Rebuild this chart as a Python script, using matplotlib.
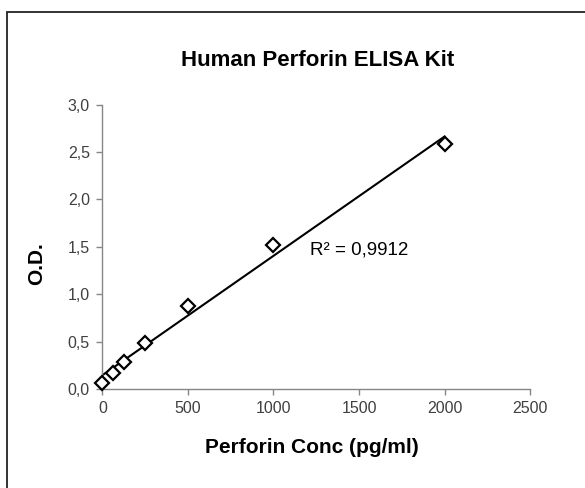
import numpy as np
import matplotlib
matplotlib.use('Agg')
import matplotlib.pyplot as plt
from matplotlib.ticker import FuncFormatter
from matplotlib.patches import Rectangle

plt.rcParams['font.family'] = ['Liberation Sans', 'DejaVu Sans']

conc = [0, 62.5, 125, 250, 500, 1000, 2000]
od = [0.06, 0.17, 0.28, 0.49, 0.88, 1.52, 2.58]
r2_label = 'R² = 0,9912'
x_ticks = [0, 500, 1000, 1500, 2000, 2500]
y_ticks = [0.0, 0.5, 1.0, 1.5, 2.0, 2.5, 3.0]

fig = plt.figure(figsize=(5.85, 4.88), dpi=100)
ax = fig.add_axes([0.1752, 0.2029, 0.7308, 0.5826])

# outer chart border (only left/top visible in the original)
fig.patches.append(Rectangle((7 / 585, -0.1), 1.2, 1 - 12 / 488 + 0.1,
                             transform=fig.transFigure, fill=False,
                             edgecolor='#222222', lw=1.3))

slope, intercept = np.polyfit(conc, od, 1)
xs = np.array([0, max(conc)])
ax.plot(xs, slope * xs + intercept, color='black', lw=1.5, zorder=2)
ax.plot(conc, od, linestyle='none', marker='D', markersize=7.5,
        markerfacecolor='white', markeredgecolor='black', mew=1.6,
        zorder=3, clip_on=False)

ax.text(1214, 1.47, r2_label, fontsize=13.5, va='center', ha='left')

ax.set_xlim(0, 2500)
ax.set_ylim(0, 3.0)
ax.set_xticks(x_ticks)
ax.set_yticks(y_ticks)
ax.yaxis.set_major_formatter(FuncFormatter(lambda v, p: f'{v:.1f}'.replace('.', ',')))
ax.tick_params(direction='out', length=4, width=1, color='#868686',
               labelsize=11.5, labelcolor='#404040', pad=5)

for s in ['top', 'right']:
    ax.spines[s].set_visible(False)
for s in ['left', 'bottom']:
    ax.spines[s].set_color('#868686')
    ax.spines[s].set_linewidth(1)

fig.text(318 / 585, 1 - 61 / 488, 'Human Perforin ELISA Kit', fontsize=16,
         fontweight='bold', ha='center', va='center')
ax.set_xlabel('Perforin Conc (pg/ml)', fontsize=15, fontweight='bold', va='center')
ax.xaxis.set_label_coords(0.49, -0.2075)
ax.set_ylabel('O.D.', fontsize=15, fontweight='bold', va='center')
ax.yaxis.set_label_coords(-0.153, 0.44)

fig.savefig('out.png', dpi=100)
plt.close()
